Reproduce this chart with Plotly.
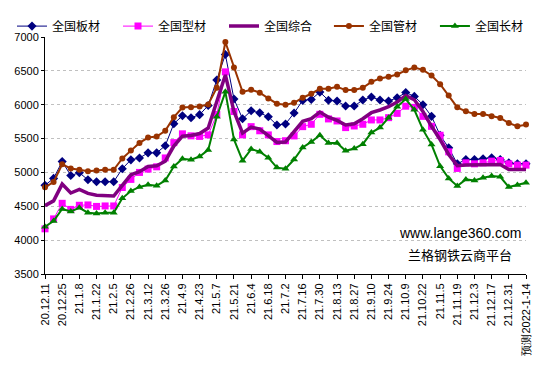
import plotly.graph_objects as go

tick_labels = ["20.12.11", "20.12.25", "21.1.8", "21.1.22", "21.2.5", "21.2.26", "21.3.12",
               "21.3.26", "21.4.9", "21.4.23", "21.5.7", "21.5.21", "21.6.4", "21.6.18",
               "21.7.2", "21.7.16", "21.7.30", "21.8.13", "21.8.27", "21.9.10", "21.9.24",
               "21.10.9", "21.10.22", "21.11.5", "21.11.19", "21.12.3", "21.12.17",
               "21.12.31", "预测2022-1-14"]

banca = [4810, 4912, 5160, 4955, 4995, 4892, 4863, 4863, 4863, 5055, 5186, 5213, 5289, 5289, 5395,
         5720, 5836, 5808, 5853, 5988, 6365, 6742, 6085, 5792, 5910, 5880, 5822, 5700, 5715,
         5877, 6064, 6078, 6186, 6066, 6054, 5980, 5980, 6069, 6113, 6069, 6054, 6103, 6180,
         6123, 6000, 5828, 5549, 5363, 5127, 5191, 5191, 5201, 5216, 5191, 5142, 5127, 5127]

xingcai = [4167, 4314, 4544, 4454, 4515, 4520, 4498, 4505, 4505, 4777, 4897, 5000, 5049, 5083, 5214,
           5440, 5570, 5540, 5532, 5555, 5855, 6485, 5900, 5555, 5676, 5615, 5554, 5456, 5468,
           5539, 5676, 5711, 5858, 5790, 5760, 5662, 5686, 5711, 5775, 5775, 5809, 5872, 5978,
           5961, 5828, 5681, 5549, 5304, 5059, 5142, 5127, 5142, 5167, 5176, 5127, 5108, 5108]

zonghe = [4510, 4580, 4828, 4696, 4750, 4690, 4662, 4660, 4652, 4810, 4965, 5010, 5088, 5098, 5165,
          5390, 5535, 5546, 5575, 5655, 6045, 6440, 5900, 5580, 5670, 5640, 5542, 5443, 5450,
          5600, 5755, 5795, 5892, 5815, 5768, 5700, 5718, 5794, 5882, 5922, 5971, 6039, 6135,
          6073, 5902, 5681, 5485, 5265, 5100, 5110, 5115, 5118, 5120, 5118, 5044, 5044, 5044]

guancai = [4782, 4858, 5120, 5059, 5039, 5018, 5027, 5039, 5039, 5206, 5322, 5436, 5515, 5529, 5615,
           5816, 5958, 5963, 5973, 6005, 6252, 6926, 6550, 6190, 6222, 6178, 6093, 6015, 5998,
           6029, 6103, 6162, 6235, 6235, 6265, 6216, 6216, 6250, 6338, 6387, 6412, 6446, 6508,
           6549, 6515, 6431, 6304, 6137, 5961, 5902, 5863, 5863, 5828, 5804, 5730, 5681, 5706]

changcai = [4198, 4282, 4461, 4424, 4478, 4405, 4392, 4405, 4405, 4618, 4725, 4786, 4819, 4804, 4880,
            5088, 5203, 5188, 5235, 5333, 5823, 6190, 5487, 5174, 5345, 5306, 5218, 5071, 5054,
            5191, 5368, 5451, 5549, 5436, 5436, 5319, 5353, 5417, 5588, 5662, 5809, 5971, 6083,
            5926, 5632, 5412, 5093, 4912, 4799, 4897, 4882, 4922, 4946, 4936, 4784, 4814, 4848]

x = list(range(len(banca)))
tickvals = list(range(0, len(banca), 2))

fig = go.Figure()
fig.add_trace(go.Scatter(x=x, y=banca, name="全国板材", mode="lines+markers", legend="legend",
                         line=dict(color="#000080", width=1),
                         marker=dict(symbol="diamond", size=7, color="#000080"), cliponaxis=False))
fig.add_trace(go.Scatter(x=x, y=xingcai, name="全国型材", mode="lines+markers", legend="legend",
                         line=dict(color="#FF00FF", width=1),
                         marker=dict(symbol="square", size=7, color="#FF00FF"), cliponaxis=False))
fig.add_trace(go.Scatter(x=x, y=zonghe, name="全国综合", mode="lines", legend="legend",
                         line=dict(color="#800080", width=3.5), cliponaxis=False))
fig.add_trace(go.Scatter(x=x, y=guancai, name="全国管材", mode="lines+markers", legend="legend2",
                         line=dict(color="#993300", width=2),
                         marker=dict(symbol="circle", size=6, color="#993300"), cliponaxis=False))
fig.add_trace(go.Scatter(x=x, y=changcai, name="全国长材", mode="lines+markers", legend="legend2",
                         line=dict(color="#008000", width=2),
                         marker=dict(symbol="triangle-up", size=7, color="#008000"), cliponaxis=False))

fig.add_annotation(text="www.lange360.com", xref="x", yref="y", x=55.7, y=4110,
                   xanchor="right", yanchor="middle", showarrow=False,
                   font=dict(family="Arial, Liberation Sans", size=14, color="#000000"))
fig.add_annotation(text="兰格钢铁云商平台", xref="x", yref="y", x=54.6, y=3790,
                   xanchor="right", yanchor="middle", showarrow=False,
                   font=dict(family="Noto Sans CJK SC", size=13, color="#000000"))

legend_common = dict(orientation="h", xref="container", yref="paper", y=1.046,
                     xanchor="left", yanchor="middle", bgcolor="rgba(0,0,0,0)",
                     font=dict(family="Noto Sans CJK SC", size=12, color="#000000"),
                     entrywidth=61, entrywidthmode="pixels", itemwidth=30, tracegroupgap=0)

# page body has an 8px margin, so the figure is sized/offset to compensate
fig.update_layout(
    width=534, height=359,
    margin=dict(l=37, r=16, t=29, b=93, autoexpand=False),
    paper_bgcolor="white", plot_bgcolor="white",
    font=dict(family="Arial, Liberation Sans", size=11, color="#000000"),
    showlegend=True,
    legend=dict(x=0.0075, **legend_common),
    legend2=dict(x=0.601, **legend_common),
    xaxis=dict(range=[0, 56], tickmode="array", tickvals=tickvals, ticktext=tick_labels,
               tickangle=-90, showgrid=False, zeroline=False, showline=True,
               linecolor="#000000", linewidth=1, ticks="outside", ticklen=4,
               tickcolor="#000000", tickfont=dict(size=11), automargin=False),
    yaxis=dict(range=[3500, 7000], tickmode="linear", tick0=3500, dtick=500,
               showgrid=True, gridcolor="#C0C0C0", griddash="dot", gridwidth=1,
               zeroline=False, showline=True, linecolor="#000000", linewidth=1,
               ticks="outside", ticklen=3, tickcolor="#000000", tickfont=dict(size=11),
               automargin=False),
)

fig.write_html("out.html")
